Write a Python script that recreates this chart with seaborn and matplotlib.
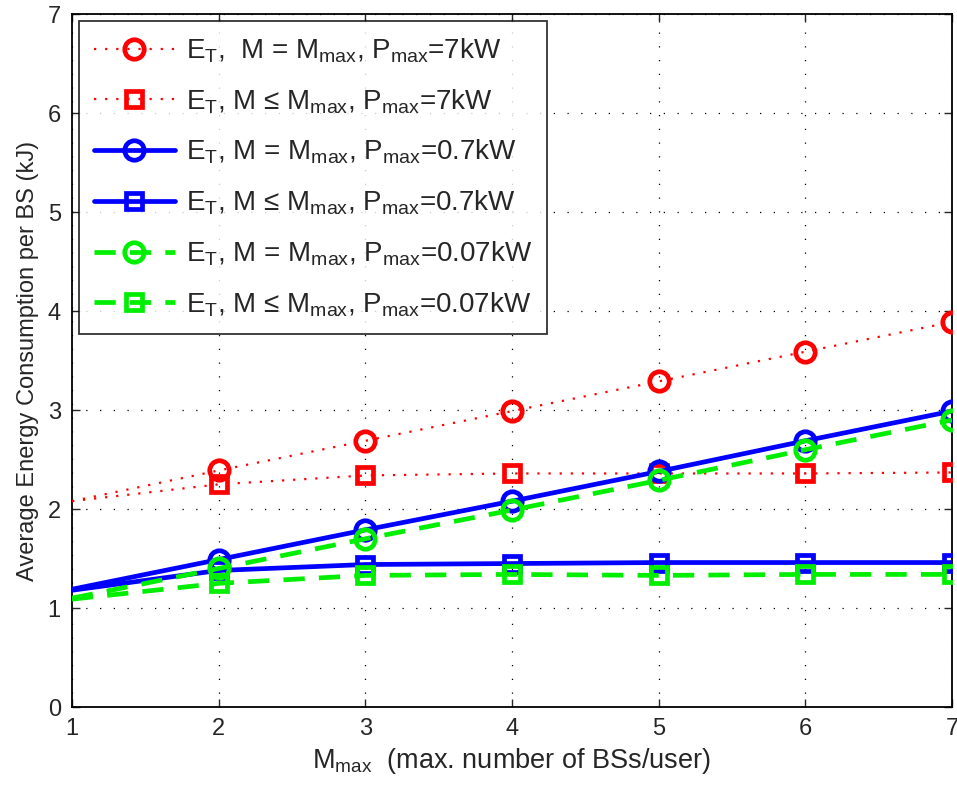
import matplotlib
matplotlib.use("Agg")
import matplotlib.pyplot as plt
import seaborn as sns
import numpy as np
import pandas as pd

# ---- data ----
m_max = [1, 2, 3, 4, 5, 6, 7]
red_circle = [2.08, 2.39, 2.69, 2.99, 3.29, 3.59, 3.89]
red_square = [2.08, 2.25, 2.34, 2.36, 2.36, 2.36, 2.37]
blue_circle = [1.19, 1.49, 1.79, 2.08, 2.38, 2.69, 2.99]
blue_square = [1.18, 1.38, 1.44, 1.45, 1.46, 1.46, 1.46]
green_circle = [1.10, 1.40, 1.70, 1.99, 2.29, 2.60, 2.90]
green_square = [1.09, 1.25, 1.33, 1.34, 1.33, 1.34, 1.34]
labels = [
    r"E$_T$,  M = M$_{max}$, P$_{max}$=7kW",
    r"E$_T$, M ≤ M$_{max}$, P$_{max}$=7kW",
    r"E$_T$, M = M$_{max}$, P$_{max}$=0.7kW",
    r"E$_T$, M ≤ M$_{max}$, P$_{max}$=0.7kW",
    r"E$_T$, M = M$_{max}$, P$_{max}$=0.07kW",
    r"E$_T$, M ≤ M$_{max}$, P$_{max}$=0.07kW",
]
xticks = [1, 2, 3, 4, 5, 6, 7]
yticks = [0, 1, 2, 3, 4, 5, 6, 7]

sns.set_style("white")
plt.rcParams["font.family"] = ["Liberation Sans", "DejaVu Sans"]
plt.rcParams["mathtext.fontset"] = "custom"
plt.rcParams["mathtext.rm"] = "Liberation Sans"
plt.rcParams["mathtext.it"] = "Liberation Sans"
plt.rcParams["mathtext.default"] = "regular"

fig = plt.figure(figsize=(9.57, 7.9), dpi=100)
ax = fig.add_axes([0.0752, 0.105, 0.9195, 0.877])

series = [red_circle, red_square, blue_circle, blue_square, green_circle, green_square]
colors = ["#ff0000", "#ff0000", "#0000ff", "#0000ff", "#00ee00", "#00ee00"]
markers = ["o", "s", "o", "s", "o", "s"]
styles = [(0, (1, 4)), (0, (1, 4)), "-", "-", (0, (4.5, 3)), (0, (4.5, 3))]
lws = [1.6, 1.6, 3.4, 3.4, 3.4, 3.4]
msizes = [14, 12, 14, 12, 14, 12]

for ys, c, mk, ls, lw, ms, lab in zip(series, colors, markers, styles, lws, msizes, labels):
    df = pd.DataFrame({"x": m_max, "y": ys})
    sns.lineplot(data=df, x="x", y="y", ax=ax, color=c, linestyle=ls, linewidth=lw,
                 marker=mk, markersize=ms, markerfacecolor="none", markeredgecolor=c,
                 markeredgewidth=3.4, markevery=slice(1, None), label=lab, zorder=3)

ax.set_xlim(1, 7)
ax.set_ylim(0, 7)
ax.set_xticks(xticks)
ax.set_yticks(yticks)
ax.grid(True, color="black", linestyle=(0, (1, 10)), linewidth=0.9)
ax.tick_params(direction="in", length=6, width=1, labelsize=17, top=True, right=True,
               bottom=True, left=True, pad=8)
for s in ax.spines.values():
    s.set_color("black")
    s.set_linewidth(1.3)
ax.set_xlabel(r"M$_{max}$  (max. number of BSs/user)", fontsize=19.5, labelpad=4)
ax.set_ylabel("Average Energy Consumption per BS (kJ)", fontsize=17, labelpad=6)

leg = ax.legend(loc="upper left", fontsize=20, frameon=True, fancybox=False,
                edgecolor="black", handlelength=2.9, handletextpad=0.4,
                labelspacing=0.8, borderpad=0.55, borderaxespad=0.25)
leg.get_frame().set_linewidth(1.3)

fig.savefig("out.png", dpi=100)
